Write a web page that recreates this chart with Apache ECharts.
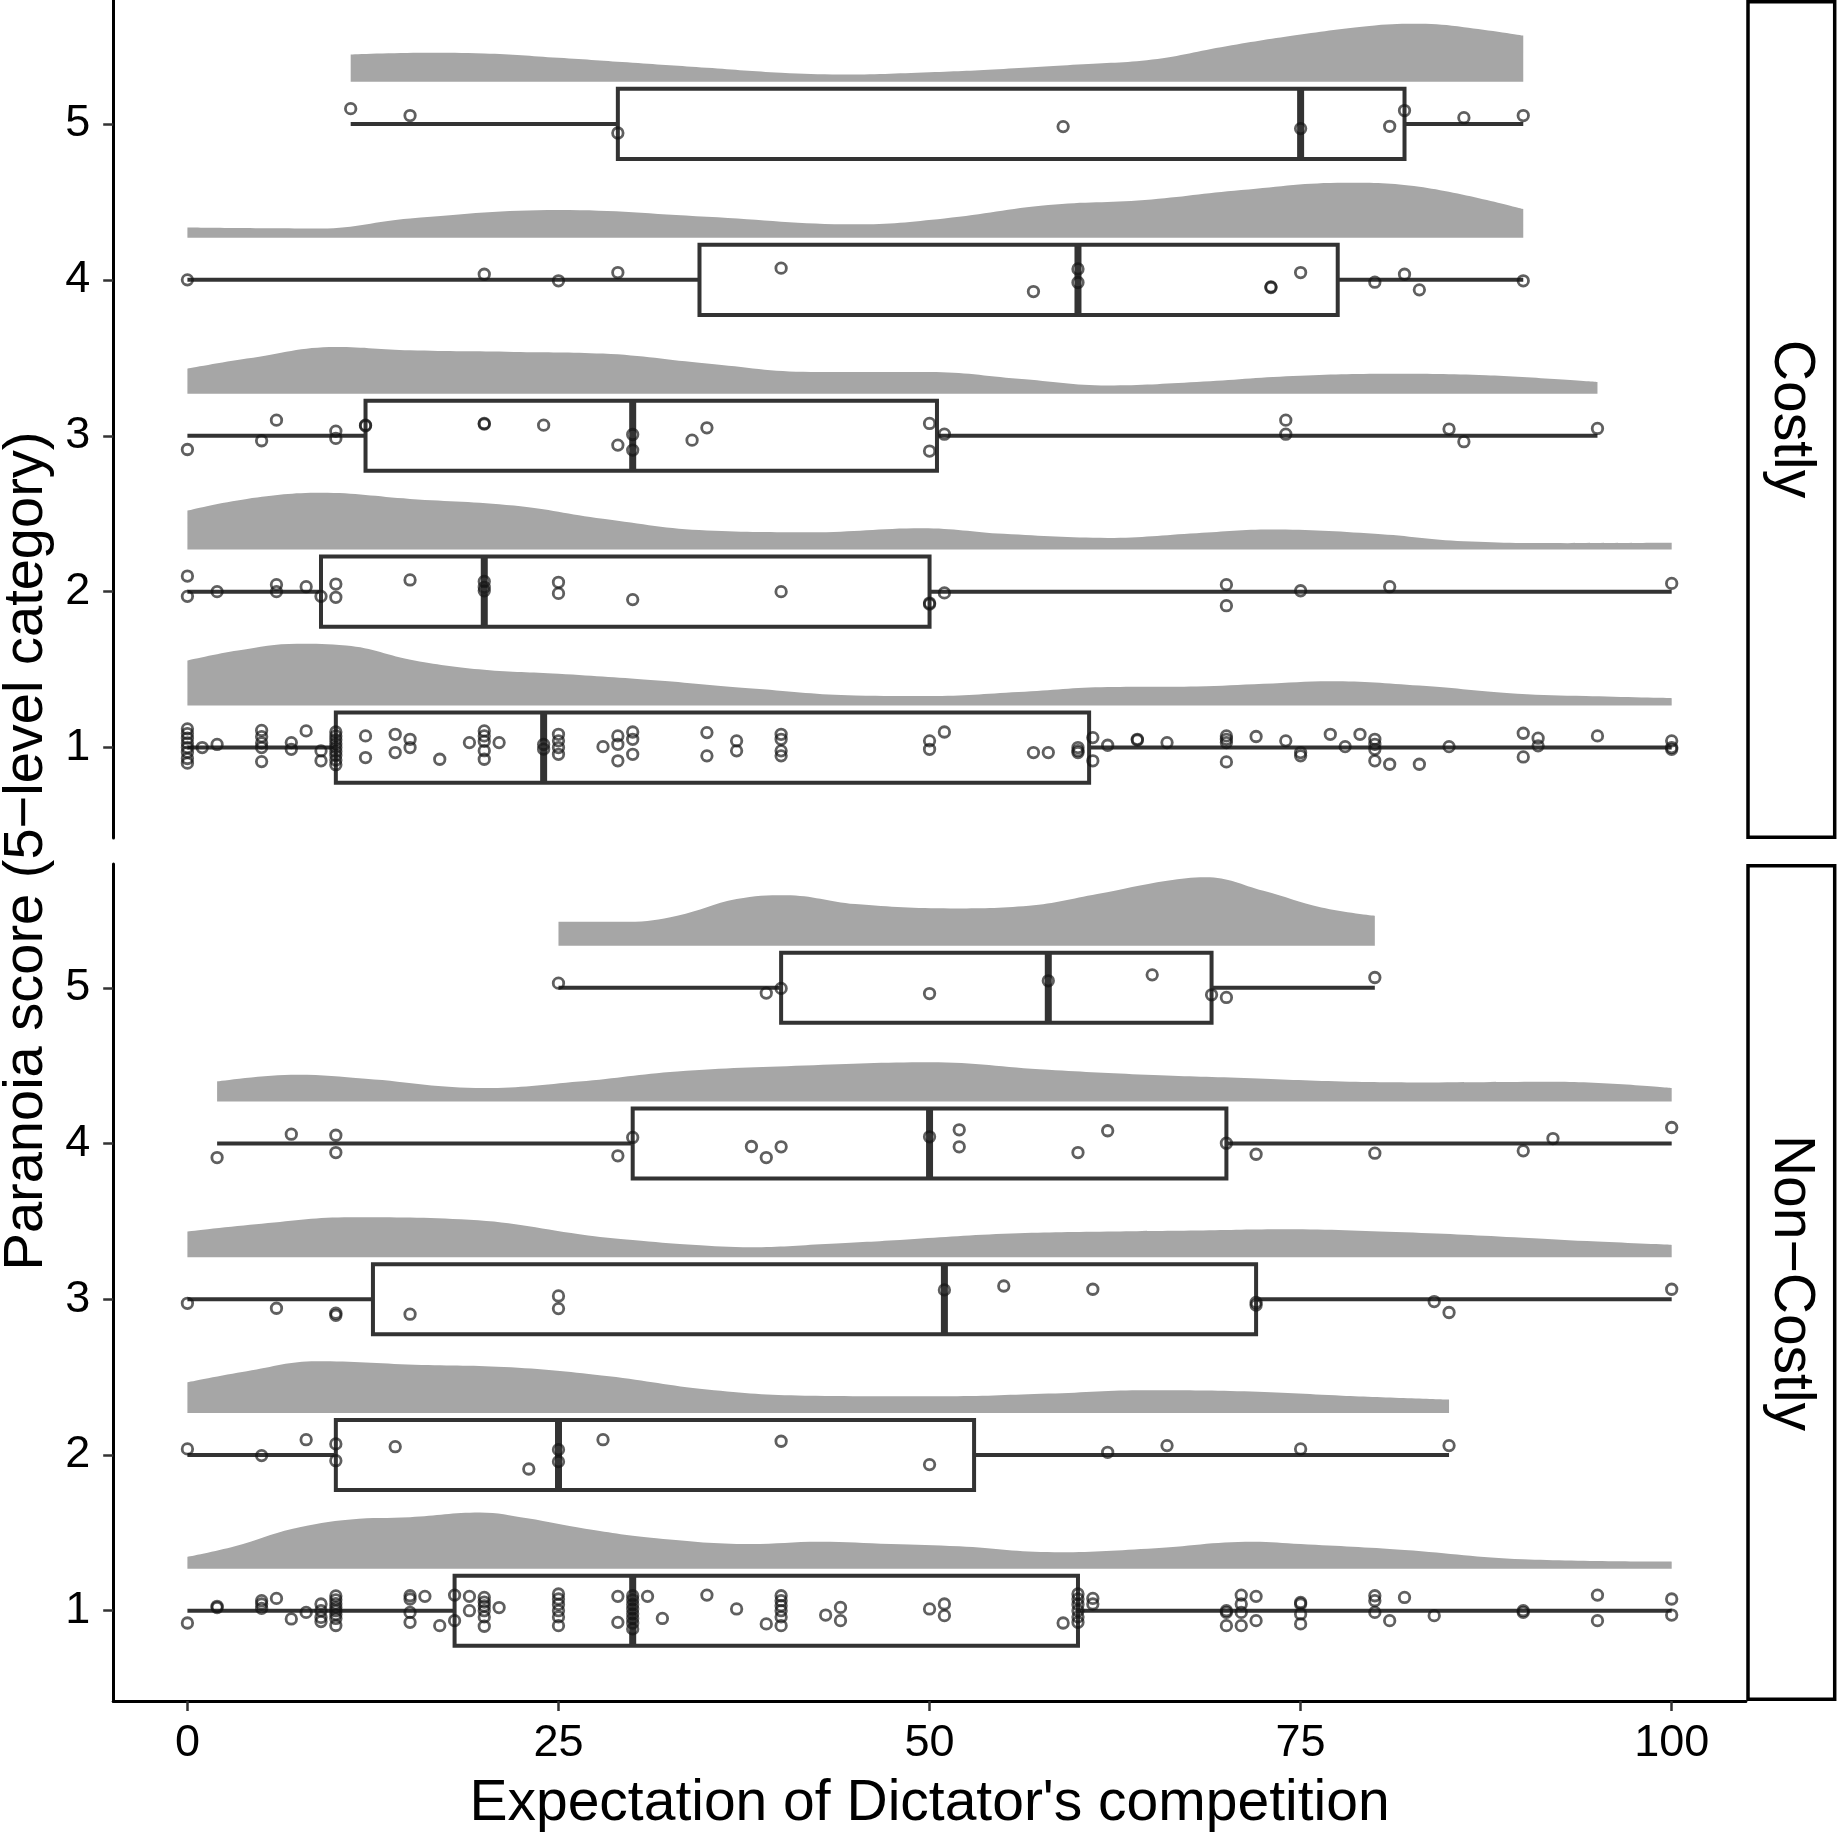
<!DOCTYPE html>
<html>
<head>
<meta charset="utf-8">
<script src="https://cdn.jsdelivr.net/npm/echarts@6/dist/echarts.min.js"></script>
<style>
html,body{margin:0;padding:0;background:#ffffff;}
#chart{width:1837px;height:1836px;}
</style>
</head>
<body>
<div id="chart"></div>
<script>
// ---------------- data ----------------
const panelNames = ['Costly', 'Non\u2212Costly'];
const xTitle = "Expectation of Dictator's competition";
const yTitle = 'Paranoia score (5\u2212level category)';
const xTickValues = [0, 25, 50, 75, 100];
const yTickValues = [1, 2, 3, 4, 5];
const rowLevels = [5, 4, 3, 2, 1];

// box stats per row: [row, whiskerLow, Q1, median, Q3, whiskerHigh]
const costlyBoxes = [
  [5, 11, 29, 75, 82, 90],
  [4, 0, 34.5, 60, 77.5, 90],
  [3, 0, 12, 30, 50.5, 95],
  [2, 0, 9, 20, 50, 100],
  [1, 0, 10, 24, 60.75, 100]
];
const nonCostlyBoxes = [
  [5, 25, 40, 58, 69, 80],
  [4, 2, 30, 50, 70, 100],
  [3, 0, 12.5, 51, 72, 100],
  [2, 0, 10, 25, 53, 85],
  [1, 0, 18, 30, 60, 100]
];

// density ridges: [x, height above ridge baseline]
const ridgeC5 = [[11,0.175],[16,0.186],[20,0.182],[25,0.154],[30,0.122],[35,0.09],[40,0.058],[44,0.047],[50,0.062],[55,0.083],[60,0.111],[65,0.143],[70,0.229],[75,0.304],[80,0.362],[83,0.372],[86,0.351],[90,0.297]];
const ridgeC4 = [[0,0.066],[9,0.06],[15,0.124],[25,0.178],[35,0.135],[45,0.086],[51,0.124],[58,0.21],[64.5,0.242],[71,0.306],[78,0.353],[83,0.327],[90,0.184]];
const ridgeC3 = [[0,0.16],[4,0.225],[10,0.30],[15,0.278],[22,0.268],[28,0.257],[35,0.193],[42,0.139],[50,0.139],[56,0.096],[62,0.053],[68,0.075],[74.5,0.113],[81,0.128],[87.5,0.118],[95,0.075]];
const ridgeC2 = [[0,0.25],[4,0.325],[9,0.364],[15,0.325],[22,0.282],[28,0.197],[35,0.122],[42,0.111],[49.5,0.137],[55,0.101],[62,0.075],[68,0.105],[73,0.128],[80,0.101],[86,0.053],[93,0.041],[100,0.043]];
const ridgeC1 = [[0,0.289],[3.4,0.353],[7.4,0.396],[10.7,0.385],[15.3,0.289],[20,0.229],[25,0.203],[31.7,0.16],[38.3,0.107],[45,0.064],[50,0.06],[56,0.086],[62,0.118],[68,0.122],[72.5,0.139],[77,0.156],[83,0.128],[89.6,0.075],[94.2,0.06],[100,0.047]];
const ridgeN5 = [[25,0.154],[29.7,0.154],[33,0.193],[37,0.30],[40.3,0.325],[45,0.268],[51.4,0.24],[56.7,0.257],[61.3,0.332],[66,0.417],[68.6,0.44],[72.5,0.353],[76.4,0.246],[80,0.193]];
const ridgeN4 = [[2,0.128],[7.4,0.171],[12,0.146],[20,0.086],[26.4,0.128],[33,0.193],[41.6,0.231],[50,0.252],[58,0.203],[64.6,0.171],[71.2,0.15],[77.8,0.128],[84.3,0.122],[92.2,0.126],[100,0.086]];
const ridgeN3 = [[0,0.165],[5,0.215],[11,0.256],[19,0.24],[27,0.14],[30,0.111],[34,0.08],[38,0.064],[43,0.085],[48,0.111],[55,0.15],[62,0.165],[68,0.172],[74,0.18],[82,0.16],[90,0.125],[95,0.1],[100,0.079]];
const ridgeN2 = [[0,0.197],[4,0.268],[8.7,0.332],[15.3,0.31],[21.8,0.293],[28.4,0.235],[35,0.15],[41.6,0.111],[51.4,0.107],[58,0.124],[64.6,0.146],[71.2,0.139],[77.8,0.111],[85,0.086]];
const ridgeN1 = [[0,0.075],[3.2,0.143],[7.1,0.256],[11,0.316],[15,0.33],[19.7,0.36],[22.9,0.323],[26.8,0.256],[31.6,0.195],[37.9,0.158],[42.6,0.173],[47.4,0.158],[52,0.143],[58.4,0.105],[64.7,0.128],[71.8,0.173],[75,0.158],[82,0.12],[90,0.06],[100,0.045]];

// individual observations: [x, vertical jitter]
const costly5 = [[11,0.098],[15,0.054],[29,-0.058],[59,-0.017],[75,-0.03],[81,-0.015],[82,0.086],[86,0.04],[90,0.054]];
const costly4 = [[0,0],[20,0.036],[25,-0.006],[29,0.047],[40,0.075],[57,-0.075],[60,0.07],[60,-0.017],[73,-0.049],[73,-0.045],[75,0.047],[80,-0.015],[82,0.036],[83,-0.064],[90,-0.006]];
const costly3 = [[0,-0.088],[5,-0.032],[6,0.1],[10,0.03],[10,-0.017],[12,0.068],[12,0.064],[20,0.079],[20,0.075],[24,0.068],[29,-0.06],[30,0.008],[30,-0.092],[34,-0.028],[35,0.051],[50,0.079],[50,-0.098],[51,0.01],[74,0.1],[74,0.01],[85,0.043],[86,-0.038],[95,0.047]];
const costly2 = [[0,0.1],[0,-0.03],[2,0],[6,0.045],[6,0],[8,0.032],[9,-0.03],[10,0.049],[10,-0.036],[15,0.075],[20,0.066],[20,0.028],[20,0.006],[25,0.06],[25,-0.011],[30,-0.051],[40,0],[50,-0.073],[50,-0.08],[51,-0.008],[70,0.045],[70,-0.09],[75,0.006],[81,0.032],[100,0.053]];
const costly1 = [[0,0.12],[0,0.09],[0,0.06],[0,0.03],[0,0],[0,-0.03],[0,-0.07],[0,-0.1],[1,0],[2,0.02],
  [5,0.11],[5,0.07],[5,0.03],[5,0],[5,-0.09],[7,0.032],[7,-0.011],[8,0.107],[9,-0.021],[9,-0.085],
  [10,0.1],[10,0.075],[10,0.05],[10,0.025],[10,0],[10,-0.025],[10,-0.05],[10,-0.08],[10,-0.11],
  [12,0.075],[12,-0.064],[14,0.085],[14,-0.032],[15,0.053],[15,0],[17,-0.075],[19,0.032],
  [20,0.107],[20,0.075],[20,0.04],[20,-0.02],[20,-0.075],[21,0.032],[24,0.02],[24,-0.01],
  [25,0.085],[25,0.043],[25,0],[25,-0.043],[28,0.006],[29,0.075],[29,0.021],[29,-0.085],
  [30,0.1],[30,0.053],[30,-0.043],[35,0.096],[35,-0.053],[37,0.043],[37,-0.021],
  [40,0.085],[40,0.053],[40,-0.021],[40,-0.053],[50,0.043],[50,-0.011],[51,0.1],
  [57,-0.032],[58,-0.032],[60,0],[60,-0.02],[60,-0.032],[61,0.064],[61,-0.085],[62,0.015],
  [64,0.053],[64,0.048],[66,0.032],[70,0.075],[70,0.053],[70,0.032],[70,-0.092],[72,0.071],
  [74,0.043],[75,-0.032],[75,-0.053],[77,0.085],[78,0.006],[79,0.085],
  [80,0.053],[80,0.021],[80,-0.011],[80,-0.085],[81,-0.107],[83,-0.107],[85,0.006],
  [90,0.092],[90,-0.06],[91,0.06],[91,0.011],[95,0.075],[100,0.043],[100,0],[100,-0.011]];

const nonCostly5 = [[25,0.03],[39,-0.034],[40,-0.004],[50,-0.037],[58,0.045],[65,0.083],[69,-0.045],[70,-0.062],[80,0.066]];
const nonCostly4 = [[2,-0.09],[7,0.06],[10,0.053],[10,-0.058],[29,-0.079],[30,0.039],[38,-0.019],[39,-0.09],[40,-0.021],[50,0.043],[52,0.088],[52,-0.021],[60,-0.058],[62,0.082],[70,0.002],[72,-0.069],[80,-0.062],[90,-0.047],[92,0.032],[100,0.103]];
const nonCostly3 = [[0,-0.026],[6,-0.058],[10,-0.09],[10,-0.103],[15,-0.096],[25,0.021],[25,-0.06],[51,0.06],[55,0.085],[61,0.064],[72,-0.021],[72,-0.037],[84,-0.015],[85,-0.085],[100,0.064]];
const nonCostly2 = [[0,0.039],[5,-0.004],[8,0.098],[10,0.071],[10,-0.037],[14,0.053],[23,-0.09],[25,0.034],[25,-0.043],[28,0.098],[40,0.088],[50,-0.062],[62,0.017],[66,0.06],[75,0.039],[85,0.06]];
const nonCostly1 = [[0,-0.079],[2,0.028],[2,0.02],[5,0.064],[5,0.043],[5,0.015],[6,0.079],[7,-0.053],[8,-0.011],
  [9,0.043],[9,0],[9,-0.043],[9,-0.07],[10,0.095],[10,0.07],[10,0.045],[10,0.02],[10,0],[10,-0.025],[10,-0.05],[10,-0.095],
  [15,0.096],[15,0.075],[15,-0.011],[15,-0.075],[16,0.092],[17,-0.096],[18,0.1],[18,-0.064],[19,0.092],[19,0],
  [20,0.085],[20,0.055],[20,0.03],[20,0],[20,-0.04],[20,-0.1],[21,0.02],
  [25,0.107],[25,0.075],[25,0.04],[25,0],[25,-0.04],[25,-0.096],[29,0.092],[29,-0.075],
  [30,0.096],[30,0.07],[30,0.04],[30,0.01],[30,-0.02],[30,-0.05],[30,-0.08],[30,-0.117],
  [31,0.092],[32,-0.05],[35,0.1],[37,0.011],[39,-0.085],
  [40,0.096],[40,0.064],[40,0.032],[40,0],[40,-0.04],[40,-0.096],[43,-0.028],[44,0.021],[44,-0.064],
  [50,0.011],[51,0.043],[51,-0.032],[59,-0.079],
  [60,0.107],[60,0.075],[60,0.04],[60,0],[60,-0.04],[60,-0.075],[61,0.079],[61,0.043],
  [70,0],[70,-0.011],[70,-0.096],[71,0.1],[71,0.043],[71,-0.011],[71,-0.096],[72,0.092],[72,-0.064],
  [75,0.053],[75,0.043],[75,-0.021],[75,-0.085],[80,0.096],[80,0.064],[80,-0.011],[81,-0.064],[82,0.085],[84,-0.032],
  [90,0],[90,-0.011],[95,0.1],[95,-0.064],[100,0.075],[100,-0.028]];

// ---------------- layout / style constants ----------------
const X_MIN = -5, X_MAX = 105, Y_MIN = 0.42, Y_MAX = 5.795;
const RIDGE_OFF = 0.27, BOX_HALF = 0.225;
const FONT = '"Liberation Sans", Arial, Helvetica, sans-serif';
const DARK = '#333333';

const costlyRidges = [ridgeC5, ridgeC4, ridgeC3, ridgeC2, ridgeC1];
const nonCostlyRidges = [ridgeN5, ridgeN4, ridgeN3, ridgeN2, ridgeN1];
const costlyPoints = [costly5, costly4, costly3, costly2, costly1];
const nonCostlyPoints = [nonCostly5, nonCostly4, nonCostly3, nonCostly2, nonCostly1];

const chart = echarts.init(document.getElementById('chart'), null, {renderer: 'canvas'});

function boxRender(params, api) {
  const row = api.value(0), lo = api.value(1), q1 = api.value(2),
        med = api.value(3), q3 = api.value(4), hi = api.value(5);
  const pLo = api.coord([lo, row]), pHi = api.coord([hi, row]);
  const a = api.coord([q1, row + BOX_HALF]), b = api.coord([q3, row - BOX_HALF]);
  const mt = api.coord([med, row + BOX_HALF]), mb = api.coord([med, row - BOX_HALF]);
  return {
    type: 'group',
    children: [
      {type: 'line', shape: {x1: pLo[0], y1: pLo[1], x2: pHi[0], y2: pHi[1]},
       style: {stroke: DARK, lineWidth: 4}},
      {type: 'rect', shape: {x: a[0], y: a[1], width: b[0] - a[0], height: b[1] - a[1]},
       style: {fill: '#ffffff', stroke: DARK, lineWidth: 4}},
      {type: 'line', shape: {x1: mt[0], y1: mt[1], x2: mb[0], y2: mb[1]},
       style: {stroke: DARK, lineWidth: 7}}
    ]
  };
}

const series = [];
[[costlyRidges, costlyBoxes, costlyPoints], [nonCostlyRidges, nonCostlyBoxes, nonCostlyPoints]].forEach((set, gi) => {
  const [ridges, boxes, points] = set;
  ridges.forEach((r, i) => {
    const row = rowLevels[i];
    series.push({
      type: 'line', xAxisIndex: gi, yAxisIndex: gi, silent: true,
      data: r.map(d => [d[0], row + RIDGE_OFF + d[1]]),
      smooth: 0.4, symbol: 'none', showSymbol: false,
      lineStyle: {width: 0, opacity: 0},
      areaStyle: {color: '#a6a6a6', opacity: 1, origin: row + RIDGE_OFF},
      z: 1
    });
  });
  series.push({
    type: 'custom', xAxisIndex: gi, yAxisIndex: gi, silent: true,
    data: boxes, renderItem: boxRender,
    encode: {x: [1, 2, 3, 4, 5], y: 0}, z: 2
  });
  const pts = [];
  points.forEach((p, i) => {
    const row = rowLevels[i];
    p.forEach(d => pts.push([d[0], row + d[1]]));
  });
  series.push({
    type: 'scatter', xAxisIndex: gi, yAxisIndex: gi, silent: true,
    data: pts, symbol: 'circle', symbolSize: 10.5,
    itemStyle: {color: 'rgba(0,0,0,0)', borderColor: 'rgba(20,20,20,0.85)', borderWidth: 2.8},
    z: 3
  });
});

function yAxis(gi) {
  return {
    type: 'value', gridIndex: gi, min: Y_MIN, max: Y_MAX,
    splitLine: {show: false},
    axisLine: {show: true, onZero: false, lineStyle: {color: '#000', width: 3}},
    axisTick: {show: true, length: 10, customValues: yTickValues, lineStyle: {color: DARK, width: 2.5}},
    axisLabel: {customValues: yTickValues, fontSize: 45, color: '#000', fontFamily: FONT, margin: 23}
  };
}

const option = {
  animation: false,
  backgroundColor: '#ffffff',
  grid: [
    {left: 113.2, top: 0, width: 1632.7, height: 838},
    {left: 113.2, top: 864, width: 1632.7, height: 837}
  ],
  xAxis: [
    {type: 'value', gridIndex: 0, min: X_MIN, max: X_MAX, show: false, splitLine: {show: false}},
    {type: 'value', gridIndex: 1, min: X_MIN, max: X_MAX,
     splitLine: {show: false},
     axisLine: {show: true, onZero: false, lineStyle: {color: '#000', width: 3}},
     axisTick: {show: true, length: 10, customValues: xTickValues, lineStyle: {color: DARK, width: 2.5}},
     axisLabel: {customValues: xTickValues, fontSize: 45, color: '#000', fontFamily: FONT, margin: 20}}
  ],
  yAxis: [yAxis(0), yAxis(1)],
  series: series,
  graphic: [
    {type: 'rect', shape: {x: 1748, y: 1.75, width: 86.7, height: 835.5},
     style: {fill: '#fff', stroke: '#000', lineWidth: 3.5}},
    {type: 'rect', shape: {x: 1748, y: 865.75, width: 86.7, height: 833.5},
     style: {fill: '#fff', stroke: '#000', lineWidth: 3.5}},
    {type: 'text', x: 1791, y: 419, rotation: -Math.PI / 2,
     style: {text: panelNames[0], fontSize: 57, fontFamily: FONT, fill: '#000', align: 'center', verticalAlign: 'middle'}},
    {type: 'text', x: 1791, y: 1283, rotation: -Math.PI / 2,
     style: {text: panelNames[1], fontSize: 57, fontFamily: FONT, fill: '#000', align: 'center', verticalAlign: 'middle'}},
    {type: 'text', x: 929.5, y: 1804,
     style: {text: xTitle, fontSize: 57, fontFamily: FONT, fill: '#000', align: 'center', verticalAlign: 'middle'}},
    {type: 'text', x: 27, y: 851, rotation: Math.PI / 2,
     style: {text: yTitle, fontSize: 56, fontFamily: FONT, fill: '#000', align: 'center', verticalAlign: 'middle'}}
  ]
};
chart.setOption(option);
</script>
</body>
</html>
